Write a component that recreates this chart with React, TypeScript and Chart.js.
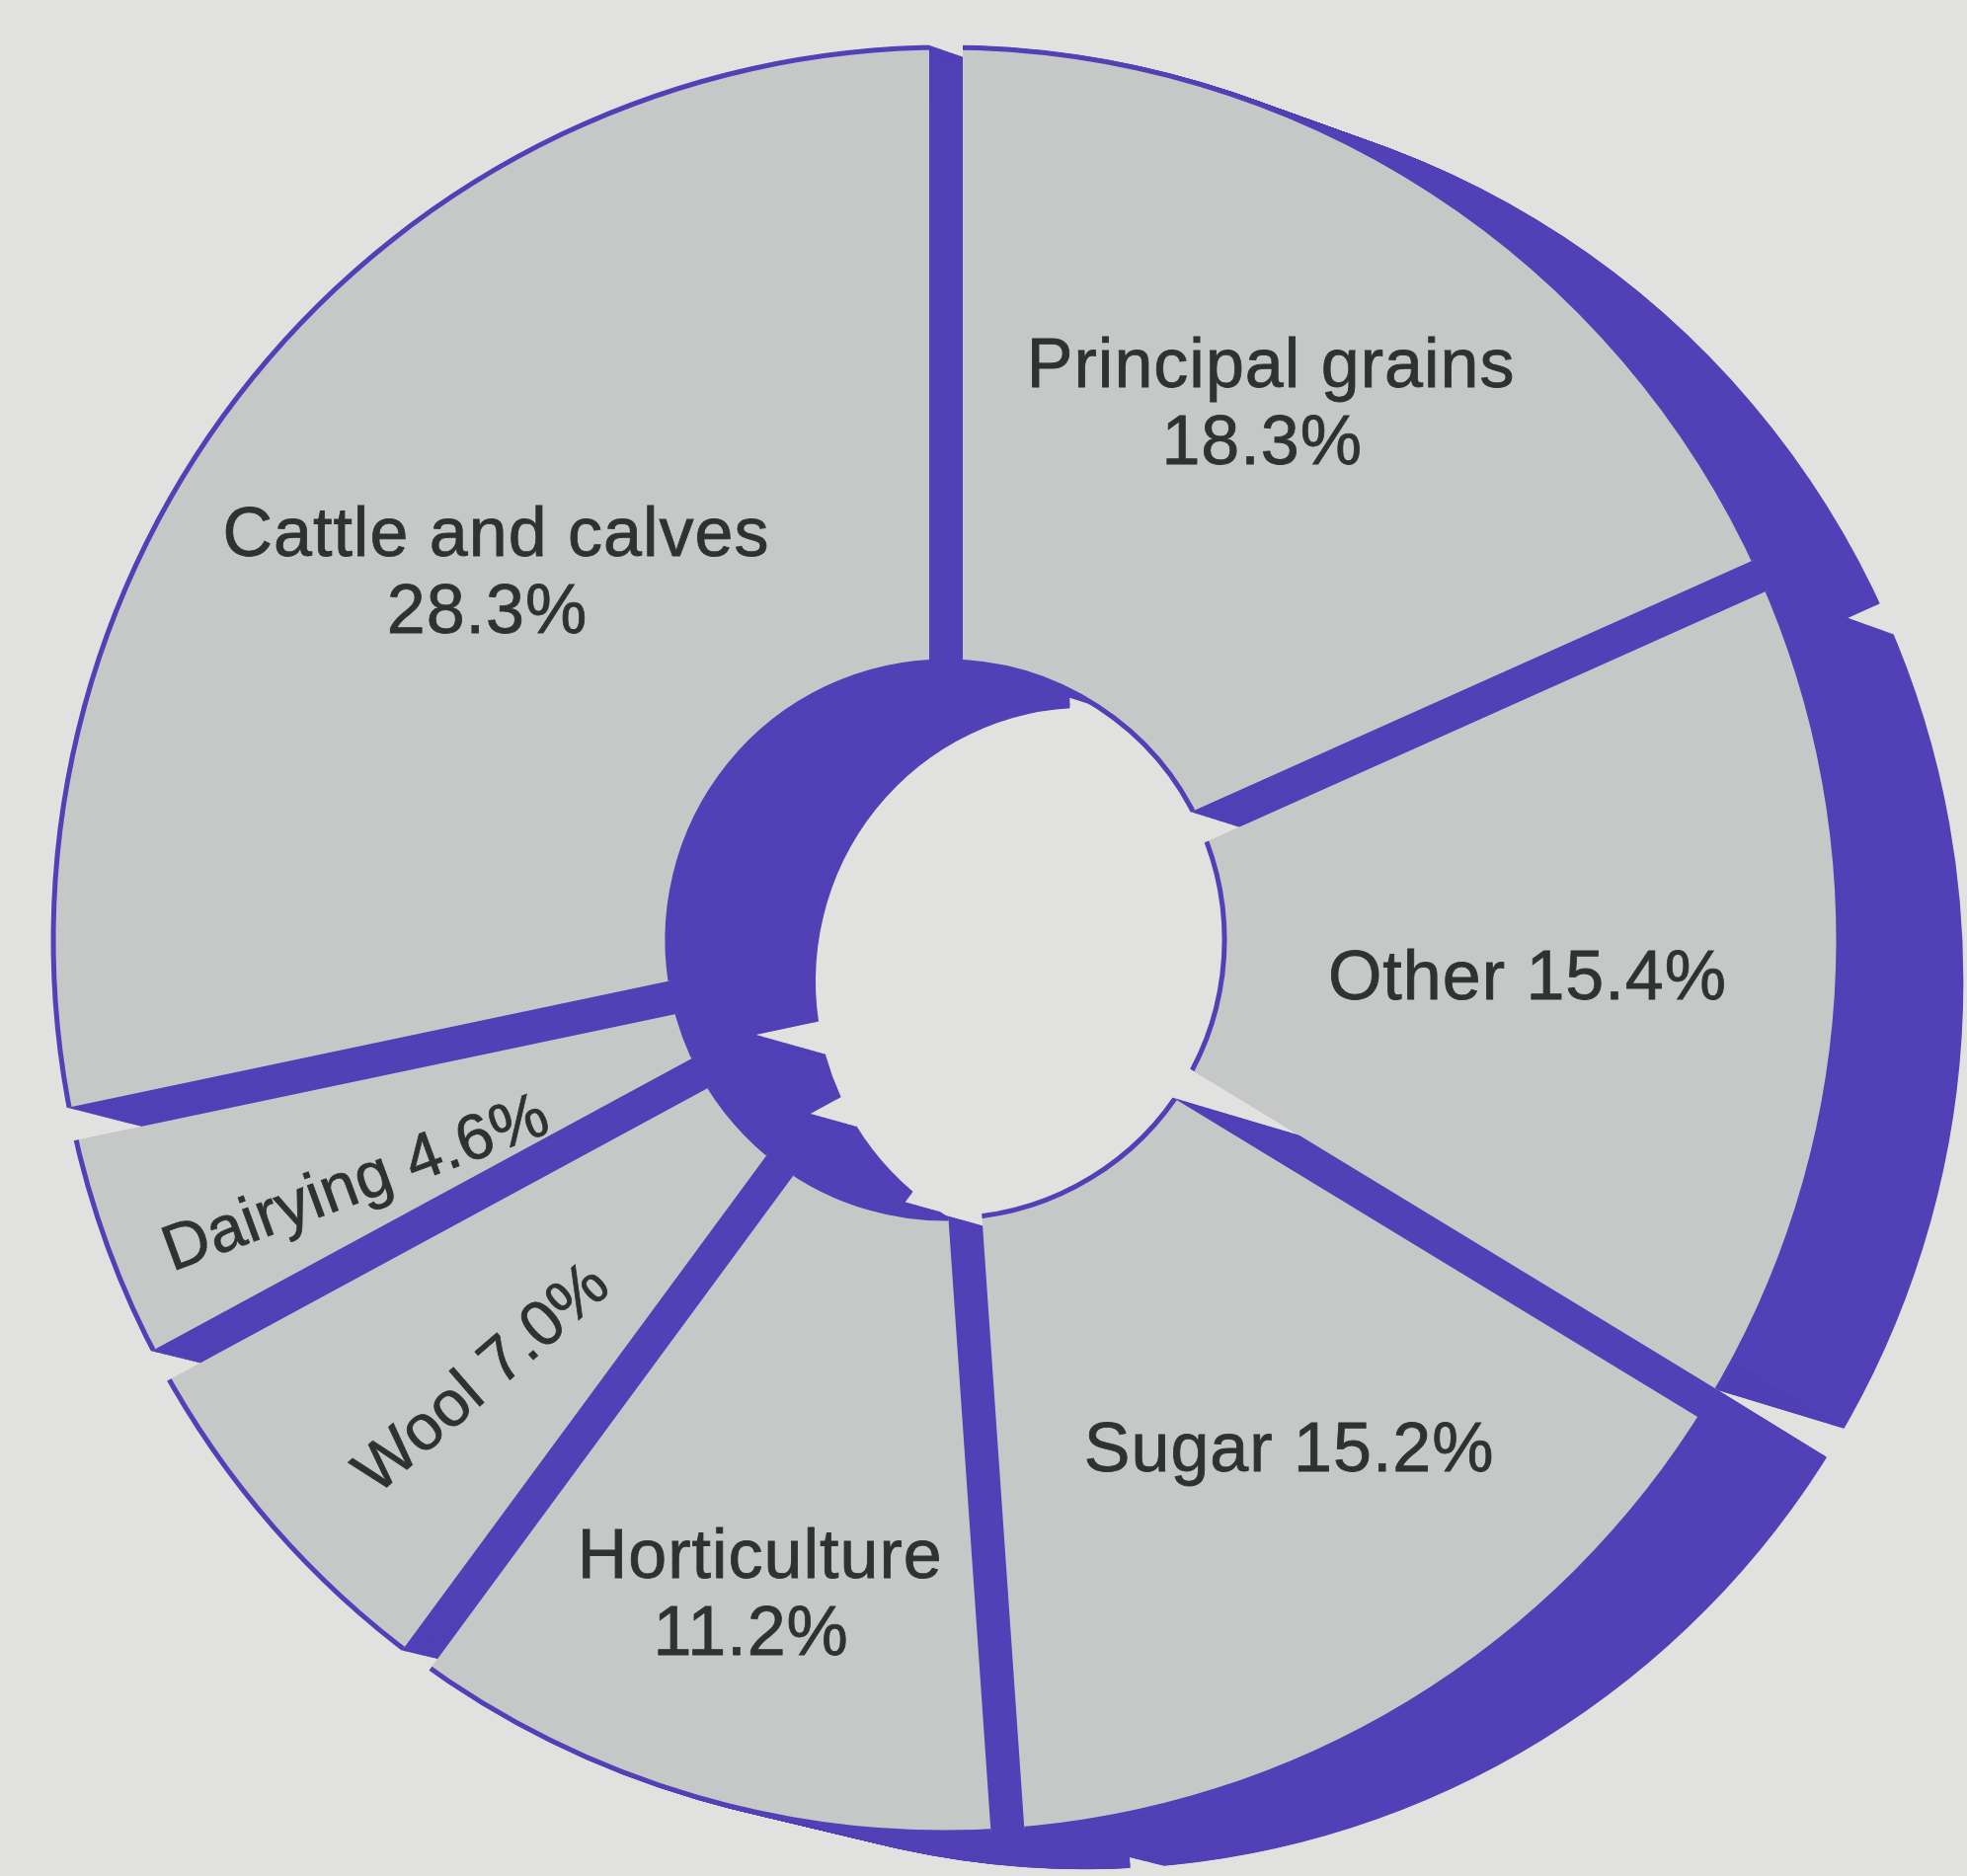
import React, { useEffect, useRef } from 'react';
import { Chart, registerables } from 'chart.js';

Chart.register(...registerables);

// ---- data (clockwise from 12 o'clock) ----
const categories = ['Principal grains', 'Other', 'Sugar', 'Horticulture', 'Wool', 'Dairying', 'Cattle and calves'];
const shares = [18.3, 15.4, 15.2, 11.2, 7.0, 4.6, 28.3];

// ---- label layout ----
const splitLabel = [true, false, false, true, false, false, true];
const rotateLabel = [false, false, false, false, true, true, false];
const labelRadius = [0.700, 0.653, 0.691, 0.765, 0.715, 0.715, 0.649];
const labelAngleShift = [-1.6, 0.4, -2.5, -0.4, -2.5, -2.4, 0];

// ---- styles ----
const PURPLE = '#5140b6';
const SLICE = '#c6c8c7';
const PAGE = '#e1e2e0';
const TEXT = '#2e3232';
const FONT = '70px "Liberation Sans", Arial, Helvetica, sans-serif';
const FONT_ROT = '65px "Liberation Sans", Arial, Helvetica, sans-serif';
const LINE_H = 78;
const GAP = 34; // width of the purple channel between slices

// 3D extrusion of each slice toward the lower right (slight perspective)
const EXTRUDE = { dx: 142, dy: 42, kx: 0.02, ky: 0.008, steps: 120 };

function clipGaps(ctx: CanvasRenderingContext2D, els: any[]) {
  const cx = els[0].x;
  const cy = els[0].y;
  const hw = GAP / 2;
  ctx.beginPath();
  ctx.rect(-6000, -6000, 12000, 12000);
  els.forEach((el) => {
    const a = el.startAngle;
    const ux = Math.cos(a);
    const uy = Math.sin(a);
    const nx = -uy;
    const ny = ux;
    const r1 = 4000;
    ctx.moveTo(cx + nx * hw, cy + ny * hw);
    ctx.lineTo(cx + ux * r1 + nx * hw, cy + uy * r1 + ny * hw);
    ctx.lineTo(cx + ux * r1 - nx * hw, cy + uy * r1 - ny * hw);
    ctx.lineTo(cx - nx * hw, cy - ny * hw);
    ctx.closePath();
  });
  ctx.clip('evenodd');
}

const pieDecor = {
  id: 'pieDecor',
  beforeDatasetsDraw(chart: any) {
    const ctx = chart.ctx as CanvasRenderingContext2D;
    const els = chart.getDatasetMeta(0).data as any[];
    // extruded purple body
    els.forEach((el: any) => {
      const fake = Object.create(el);
      fake.options = { ...el.options, backgroundColor: PURPLE, borderColor: PURPLE };
      for (let i = 1; i <= EXTRUDE.steps; i++) {
        const t = i / EXTRUDE.steps;
        ctx.save();
        ctx.translate(el.x + t * EXTRUDE.dx, el.y + t * EXTRUDE.dy);
        ctx.scale(1 - t * EXTRUDE.kx, 1 - t * EXTRUDE.ky);
        ctx.translate(-el.x, -el.y);
        clipGaps(ctx, els);
        fake.draw(ctx);
        ctx.restore();
      }
    });
    // gaps for the front faces
    ctx.save();
    clipGaps(ctx, els);
  },
  afterDatasetsDraw(chart: any) {
    const ctx = chart.ctx as CanvasRenderingContext2D;
    ctx.restore();
    const els = chart.getDatasetMeta(0).data as any[];
    els.forEach((el: any, i: number) => {
      const mid = (el.startAngle + el.endAngle) / 2;
      const ang = mid + (labelAngleShift[i] * Math.PI) / 180;
      const r = el.outerRadius * labelRadius[i];
      const x = el.x + Math.cos(ang) * r;
      const y = el.y + Math.sin(ang) * r;
      const pct = shares[i].toFixed(1) + '%';
      const lines = splitLabel[i] ? [categories[i], pct] : [categories[i] + ' ' + pct];
      ctx.save();
      ctx.translate(x, y);
      if (rotateLabel[i]) ctx.rotate(mid - Math.PI);
      ctx.font = rotateLabel[i] ? FONT_ROT : FONT;
      (ctx as any).letterSpacing = rotateLabel[i] ? '0.5px' : '1px';
      ctx.fillStyle = TEXT;
      ctx.strokeStyle = TEXT;
      ctx.lineWidth = 0.8;
      ctx.textAlign = 'center';
      ctx.textBaseline = 'middle';
      lines.forEach((ln, j) => {
        const ly = (j - (lines.length - 1) / 2) * LINE_H;
        const lx = j > 0 ? -9 : 0;
        ctx.fillText(ln, lx, ly);
        ctx.strokeText(ln, lx, ly);
      });
      ctx.restore();
    });
  },
};

export default function App() {
  const ref = useRef<HTMLCanvasElement | null>(null);

  useEffect(() => {
    if (!ref.current) return;
    const chart = new Chart(ref.current, {
      type: 'doughnut',
      data: {
        labels: categories,
        datasets: [
          {
            data: shares,
            backgroundColor: SLICE,
            borderColor: PURPLE,
            borderWidth: 5,
          } as any,
        ],
      },
      options: {
        responsive: false,
        animation: false,
        devicePixelRatio: 1,
        events: [],
        radius: 904,
        cutout: '31.2%',
        layout: { padding: { left: 0, right: 76, top: 4, bottom: 0 } },
        plugins: { legend: { display: false }, tooltip: { enabled: false } },
      } as any,
      plugins: [pieDecor],
    });
    return () => chart.destroy();
  }, []);

  return (
    <div style={{ position: 'fixed', left: 0, top: 0, width: 1992, height: 1900, background: PAGE }}>
      <canvas ref={ref} width={1992} height={1900} style={{ width: 1992, height: 1900, display: 'block' }} />
    </div>
  );
}
